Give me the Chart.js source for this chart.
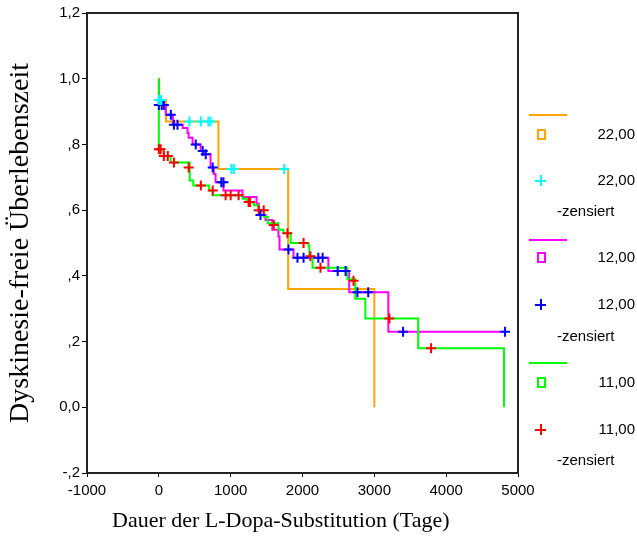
<!DOCTYPE html>
<html>
<head>
<meta charset="utf-8">
<script src="https://cdn.jsdelivr.net/npm/chart.js@4/dist/chart.umd.min.js"></script>
<style>
  html, body { margin: 0; padding: 0; background: #fff; }
  #wrap { position: relative; width: 637px; height: 543px; }
  #km { position: absolute; left: 0; top: 0; }
  .lg { position: absolute; font-family: "Liberation Sans", Arial, sans-serif; font-size: 15px; color: #000; }
  .num { right: 2px; text-align: right; }
  .zen { left: 557px; }
  .ln { position: absolute; left: 529px; width: 38px; height: 2px; }
  .sq { position: absolute; left: 537px; width: 5px; height: 7px; border: 2px solid; }
  .pl { position: absolute; left: 535px; width: 11px; height: 11px; }
  .pl:before, .pl:after { content: ""; position: absolute; background: currentColor; }
  .pl:before { left: 0; top: 5px; width: 11px; height: 1.5px; }
  .pl:after { left: 5px; top: 0; width: 1.5px; height: 11px; }
  #xtitle { position: absolute; left: 112px; top: 507px; font-family: "Liberation Serif", "Times New Roman", serif; font-size: 22px; white-space: nowrap; }
</style>
</head>
<body>
<div id="wrap">
  <canvas id="km" width="637" height="543"></canvas>

  <div class="ln" style="top:114px;background:#ffa500"></div>
  <div class="sq" style="top:129px;border-color:#ffa500"></div>
  <div class="lg num" style="top:125px">22,00</div>
  <div class="pl" style="top:175px;color:#00ffff"></div>
  <div class="lg num" style="top:171px">22,00</div>
  <div class="lg zen" style="top:202px">-zensiert</div>

  <div class="ln" style="top:239px;background:#ff00ff"></div>
  <div class="sq" style="top:252px;border-color:#ff00ff"></div>
  <div class="lg num" style="top:248px">12,00</div>
  <div class="pl" style="top:299px;color:#0000ff"></div>
  <div class="lg num" style="top:295px">12,00</div>
  <div class="lg zen" style="top:327px">-zensiert</div>

  <div class="ln" style="top:362px;background:#00ff00"></div>
  <div class="sq" style="top:377px;border-color:#00ff00"></div>
  <div class="lg num" style="top:373px">11,00</div>
  <div class="pl" style="top:424px;color:#ff0000"></div>
  <div class="lg num" style="top:420px">11,00</div>
  <div class="lg zen" style="top:451px">-zensiert</div>

  <div id="xtitle">Dauer der L-Dopa-Substitution (Tage)</div>
</div>

<script>
"use strict";

// Gruppe 22,00
const t22 = [0, 5, 100, 830, 1800, 3000];
const s22 = [1.0, 0.935, 0.87, 0.725, 0.36, 0.0];
const c22t = [0, 30, 425, 585, 690, 720, 1010, 1045, 1745];
const c22s = [0.935, 0.935, 0.87, 0.87, 0.87, 0.87, 0.725, 0.725, 0.725];

// Gruppe 12,00
const t12 = [0, 0, 97, 195, 333, 400, 415, 470, 583, 640, 720, 765, 790, 900, 1165, 1360, 1390, 1400, 1485, 1580, 1665, 1680, 1875, 2360, 2650, 3195, 4805];
const s12 = [1.0, 0.92, 0.89, 0.86, 0.85, 0.835, 0.82, 0.80, 0.78, 0.77, 0.73, 0.71, 0.685, 0.66, 0.64, 0.62, 0.60, 0.585, 0.57, 0.54, 0.52, 0.48, 0.455, 0.415, 0.35, 0.23, 0.23];
const c12t = [0, 40, 70, 167, 210, 260, 514, 611, 653, 750, 870, 900, 1415, 1805, 1930, 2015, 2220, 2280, 2490, 2600, 2765, 2915, 3400, 4820];
const c12s = [0.92, 0.92, 0.92, 0.89, 0.86, 0.86, 0.80, 0.78, 0.77, 0.73, 0.685, 0.685, 0.585, 0.48, 0.455, 0.455, 0.455, 0.455, 0.415, 0.415, 0.35, 0.35, 0.23, 0.23];

// Gruppe 11,00
const t11 = [0, 0, 70, 165, 430, 480, 700, 750, 1165, 1220, 1320, 1390, 1460, 1515, 1665, 1735, 1835, 2085, 2095, 2140, 2625, 2735, 2875, 3610, 4805];
const s11 = [1.0, 0.785, 0.765, 0.745, 0.69, 0.675, 0.66, 0.645, 0.635, 0.625, 0.615, 0.60, 0.58, 0.56, 0.54, 0.53, 0.50, 0.49, 0.46, 0.425, 0.39, 0.33, 0.27, 0.18, 0.0];
const c11t = [0, 25, 70, 125, 210, 415, 585, 750, 930, 1000, 1110, 1250, 1270, 1390, 1460, 1600, 1790, 2015, 2110, 2250, 2710, 3210, 3790];
const c11s = [0.785, 0.785, 0.765, 0.765, 0.745, 0.73, 0.675, 0.66, 0.645, 0.645, 0.645, 0.625, 0.625, 0.60, 0.60, 0.555, 0.53, 0.50, 0.46, 0.425, 0.385, 0.27, 0.18];

const xTicks = [-1000, 0, 1000, 2000, 3000, 4000, 5000];
const yTicks = [-0.2, 0, 0.2, 0.4, 0.6, 0.8, 1.0, 1.2];
const yTickLabels = ["-,2", "0,0", ",2", ",4", ",6", ",8", "1,0", "1,2"];

function pts(xs, ys) {
  return xs.map(function (x, i) { return { x: x, y: ys[i] }; });
}

function curve(xs, ys, color, ord) {
  return {
    data: pts(xs, ys), showLine: true, stepped: true,
    borderColor: color, borderWidth: 2, pointRadius: 0, fill: false, order: ord
  };
}

function censored(xs, ys, color) {
  return {
    data: pts(xs, ys), showLine: false, pointStyle: "cross",
    pointRadius: 5, borderColor: color, borderWidth: 2, order: 1
  };
}

const frame = {
  id: "frame",
  afterDatasetsDraw: function (chart) {
    const a = chart.chartArea;
    const ctx = chart.ctx;
    ctx.save();
    ctx.strokeStyle = "#222";
    ctx.lineWidth = 2;
    ctx.strokeRect(a.left, a.top, a.right - a.left, a.bottom - a.top);
    ctx.restore();
  }
};

const ctx = document.getElementById("km");

const kmChart = new Chart(ctx, {
  type: "scatter",
  data: {
    datasets: [
      curve(t22, s22, "#ffa500", 4),
      censored(c22t, c22s, "#00ffff"),
      curve(t12, s12, "#ff00ff", 3),
      censored(c12t, c12s, "#0000ff"),
      curve(t11, s11, "#00ff00", 2),
      censored(c11t, c11s, "#ff0000")
    ]
  },
  options: {
    responsive: false,
    animation: false,
    layout: { padding: { top: 13, right: 119, left: 0, bottom: 0 } },
    plugins: { legend: { display: false }, tooltip: { enabled: false } },
    scales: {
      x: {
        type: "linear", min: -1000, max: 5000,
        afterBuildTicks: function (s) { s.ticks = xTicks.map(function (v) { return { value: v }; }); },
        afterFit: function (s) { s.height = 70; },
        grid: { display: true, drawOnChartArea: false, tickLength: 4, color: "#000" },
        border: { display: true, color: "#000", width: 2 },
        ticks: {
          color: "#000", padding: 5, maxRotation: 0,
          font: { family: "Liberation Sans", size: 15 },
          callback: function (v) { return String(v); }
        }
      },
      y: {
        type: "linear", min: -0.2, max: 1.2,
        afterBuildTicks: function (s) { s.ticks = yTicks.map(function (v) { return { value: v }; }); },
        afterFit: function (s) { s.width = 87; },
        grid: { display: true, drawOnChartArea: false, tickLength: 5, color: "#000" },
        border: { display: true, color: "#000", width: 2 },
        ticks: {
          color: "#000", padding: 2,
          font: { family: "Liberation Sans", size: 15 },
          callback: function (v, i) { return yTickLabels[i]; }
        },
        title: {
          display: true, text: "Dyskinesie-freie Überlebenszeit", color: "#000",
          font: { family: "Liberation Serif", size: 28 }, padding: { top: 4, bottom: 0 }
        }
      }
    }
  },
  plugins: [frame]
});
</script>
</body>
</html>
